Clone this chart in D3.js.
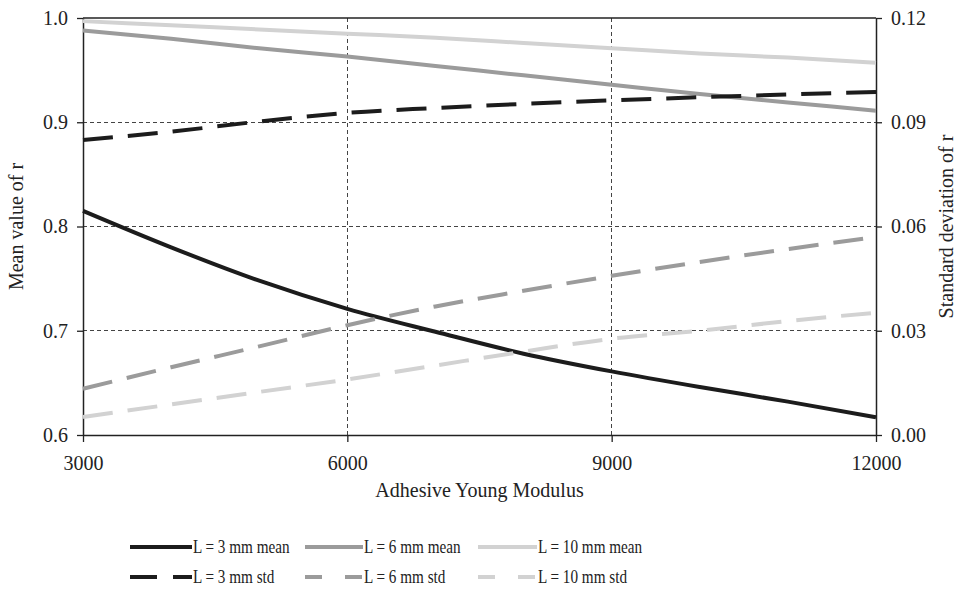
<!DOCTYPE html>
<html>
<head>
<meta charset="utf-8">
<script src="https://cdn.jsdelivr.net/npm/d3@7"></script>
<style>
  body { margin: 0; background: #fff; }
</style>
</head>
<body>
<div id="chart"></div>
<script>
const W = 957, H = 591;
const SERIF = '"Liberation Serif", "Times New Roman", serif';

// --- Data ---
const modulus = [3000, 4000, 5000, 6000, 7000, 8000, 9000, 10000, 11000, 12000];
const mean3 = [0.815, 0.780, 0.748, 0.721, 0.699, 0.678, 0.661, 0.646, 0.632, 0.617];
const mean6 = [0.988, 0.980, 0.971, 0.963, 0.954, 0.945, 0.936, 0.927, 0.919, 0.911];
const mean10 = [0.997, 0.993, 0.989, 0.985, 0.981, 0.976, 0.971, 0.966, 0.962, 0.957];
const std3 = [0.0849, 0.0873, 0.0902, 0.0927, 0.0941, 0.0953, 0.0963, 0.0972, 0.0980, 0.0987];
const std6 = [0.0133, 0.0195, 0.0255, 0.0316, 0.0370, 0.0415, 0.0458, 0.0498, 0.0535, 0.0570];
const std10 = [0.0052, 0.0088, 0.0124, 0.0160, 0.0200, 0.0240, 0.0277, 0.0300, 0.0328, 0.0352];

const xTicks = [3000, 6000, 9000, 12000];
const yTicks = [0.6, 0.7, 0.8, 0.9, 1.0];
const y2Ticks = [0, 0.03, 0.06, 0.09, 0.12];

const series = [
  { name: "L = 3 mm mean", values: mean3, axis: "left", color: "#1c1c1c", dash: null },
  { name: "L = 6 mm mean", values: mean6, axis: "left", color: "#9b9b9b", dash: null },
  { name: "L = 10 mm mean", values: mean10, axis: "left", color: "#d2d2d2", dash: null },
  { name: "L = 3 mm std", values: std3, axis: "right", color: "#1c1c1c", dash: "30,15" },
  { name: "L = 6 mm std", values: std6, axis: "right", color: "#9b9b9b", dash: "30,15" },
  { name: "L = 10 mm std", values: std10, axis: "right", color: "#d2d2d2", dash: "30,15" }
];

// --- Layout ---
const m = { left: 83, right: 876, top: 18, bottom: 435 };

const x = d3.scaleLinear().domain([3000, 12000]).range([m.left, m.right]);
const y = d3.scaleLinear().domain([0.6, 1.0]).range([m.bottom, m.top]);
const y2 = d3.scaleLinear().domain([0, 0.12]).range([m.bottom, m.top]);

const svg = d3.select("#chart").append("svg")
  .attr("width", W).attr("height", H);

// gridlines
const grid = svg.append("g").attr("stroke", "#444").attr("stroke-width", 1)
  .attr("stroke-dasharray", "4,3").attr("shape-rendering", "crispEdges");
grid.selectAll(".gx").data(xTicks.slice(1, -1)).join("line")
  .attr("x1", d => x(d)).attr("x2", d => x(d))
  .attr("y1", m.top).attr("y2", m.bottom);
grid.selectAll(".gy").data(yTicks.slice(1, -1)).join("line")
  .attr("x1", m.left).attr("x2", m.right)
  .attr("y1", d => y(d)).attr("y2", d => y(d));

// top border
svg.append("line")
  .attr("x1", m.left).attr("x2", m.right).attr("y1", m.top).attr("y2", m.top)
  .attr("stroke", "#222").attr("stroke-width", 1.3);

// axes
const fmt1 = d3.format(".1f"), fmt2 = d3.format(".2f");
const styleAxis = g => {
  g.attr("font-family", null);
  g.selectAll(".domain").attr("stroke", "#222").attr("stroke-width", 1.5);
  g.selectAll(".tick line").attr("stroke", "#222").attr("stroke-width", 1.3);
  g.selectAll(".tick text").style("font-family", SERIF).style("font-size", "20px").attr("fill", "#222");
};

svg.append("g").attr("transform", `translate(0,${m.bottom})`)
  .call(d3.axisBottom(x).tickValues(xTicks).tickSize(7).tickSizeOuter(0).tickPadding(14).tickFormat(d3.format("d")))
  .call(styleAxis);

svg.append("g").attr("transform", `translate(${m.left},0)`)
  .call(d3.axisLeft(y).tickValues(yTicks).tickSize(6).tickSizeOuter(0).tickPadding(9).tickFormat(fmt1))
  .call(styleAxis);

svg.append("g").attr("transform", `translate(${m.right},0)`)
  .call(d3.axisRight(y2).tickValues(y2Ticks).tickSize(6).tickSizeOuter(0).tickPadding(9).tickFormat(fmt2))
  .call(styleAxis);

// axis titles
const title = sel => sel.style("font-family", SERIF).style("font-size", "20px").attr("fill", "#222")
  .attr("text-anchor", "middle");
svg.append("text").attr("x", (m.left + m.right) / 2).attr("y", 497)
  .call(title).text("Adhesive Young Modulus");
svg.append("text").attr("transform", `translate(23,${(m.top + m.bottom) / 2}) rotate(-90)`)
  .call(title).text("Mean value of r");
svg.append("text").attr("transform", `translate(953,${(m.top + m.bottom) / 2}) rotate(-90)`)
  .call(title).text("Standard deviation of r");

// lines
const plot = svg.append("g");
series.forEach(s => {
  const sc = s.axis === "left" ? y : y2;
  const line = d3.line().x((d, i) => x(modulus[i])).y(d => sc(d)).curve(d3.curveMonotoneX);
  plot.append("path").datum(s.values)
    .attr("d", line)
    .attr("fill", "none")
    .attr("stroke", s.color)
    .attr("stroke-width", 4)
    .attr("stroke-dasharray", s.dash);
});

// legend
const legCols = [{ x0: 130, x1: 192 }, { x0: 305, x1: 363 }, { x0: 478, x1: 537 }];
const legRows = [547, 577];
const leg = svg.append("g");
series.forEach((s, i) => {
  const c = legCols[i % 3], cy = legRows[Math.floor(i / 3)];
  const g = leg.append("g").attr("transform", `translate(${c.x0},${cy})`);
  const len = c.x1 - c.x0;
  g.append("line").attr("x1", 0).attr("x2", len)
    .attr("y1", 0).attr("y2", 0)
    .attr("stroke", s.color).attr("stroke-width", 4)
    .attr("stroke-dasharray", s.dash ? (i % 3 === 0 ? "27,16" : "17,23") : null);
  g.append("text")
    .attr("transform", `translate(${len + 1},6) scale(0.8,1)`)
    .style("font-family", SERIF).style("font-size", "19px").attr("fill", "#222")
    .text(s.name);
});
</script>
</body>
</html>
